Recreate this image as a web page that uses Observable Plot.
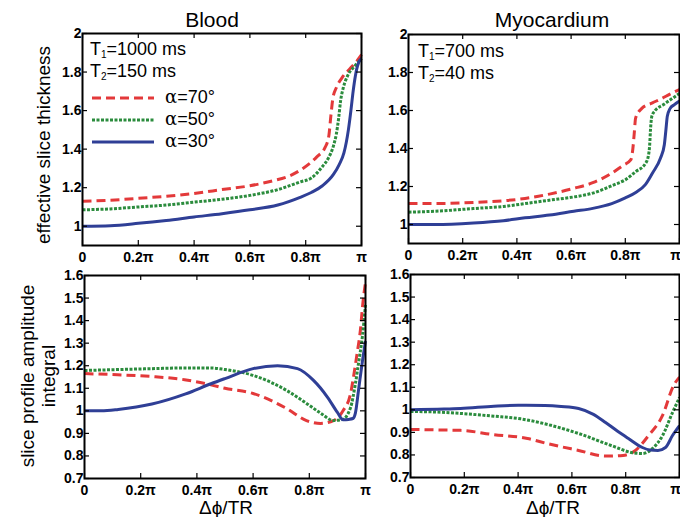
<!DOCTYPE html>
<html><head><meta charset="utf-8">
<script src="https://cdn.jsdelivr.net/npm/d3@7"></script>
<script src="https://cdn.jsdelivr.net/npm/@observablehq/plot@0.6"></script>
<style>
body{margin:0;background:#fff;}
#chart{position:relative;width:680px;height:517px;font-family:"Liberation Sans",Arial,sans-serif;color:#000;overflow:hidden;background:#fff}
#chart svg{position:absolute}
.t{position:absolute;white-space:nowrap;line-height:1}
.c{transform:translate(-50%,-50%)}
.r{transform:translate(-50%,-50%) rotate(-90deg)}
.leg{position:absolute;white-space:nowrap;line-height:1;font-size:18px;transform:translateY(-50%)}
sub{font-size:10px;vertical-align:-3px}
.ga{font-family:"DejaVu Serif","Liberation Serif",serif}
</style></head><body><div id="chart"></div>
<script>
// ---- tick values (x in units of π) ----
const xTicks = [0, 0.2, 0.4, 0.6, 0.8, 1];
const yTicksThick = [1, 1.2, 1.4, 1.6, 1.8, 2];
const yTicksAmp = [0.7, 0.8, 0.9, 1, 1.1, 1.2, 1.3, 1.4, 1.5, 1.6];
const panelTitles = ["Blood", "Myocardium"];
const flipLabels = ["α=70°", "α=50°", "α=30°"];
const tissueParams = [["1000", "150"], ["700", "40"]];

// ---- Blood: effective slice thickness ----
const bloodThick70 = [[0,1.13],[0.1,1.135],[0.2,1.145],[0.3,1.155],[0.4,1.17],[0.5,1.19],[0.6,1.21],[0.68,1.235],[0.74,1.26],[0.79,1.30],[0.84,1.36],[0.87,1.41],[0.883,1.47],[0.89,1.57],[0.897,1.66],[0.91,1.72],[0.93,1.77],[0.96,1.82],[0.985,1.86],[1,1.89]];
const bloodThick50 = [[0,1.085],[0.1,1.09],[0.2,1.1],[0.3,1.11],[0.4,1.125],[0.5,1.14],[0.6,1.16],[0.7,1.19],[0.78,1.23],[0.82,1.25],[0.86,1.31],[0.88,1.35],[0.9,1.42],[0.91,1.48],[0.918,1.56],[0.925,1.65],[0.935,1.72],[0.95,1.78],[0.975,1.83],[1,1.87]];
const bloodThick30 = [[0,1.0],[0.1,1.003],[0.2,1.015],[0.3,1.03],[0.4,1.048],[0.5,1.065],[0.6,1.085],[0.7,1.11],[0.78,1.15],[0.82,1.175],[0.86,1.21],[0.9,1.27],[0.92,1.32],[0.937,1.38],[0.953,1.50],[0.962,1.6],[0.97,1.7],[0.978,1.78],[0.99,1.85],[1,1.87]];

// ---- Myocardium: effective slice thickness ----
const myoThick70 = [[0,1.11],[0.1,1.11],[0.24,1.116],[0.35,1.125],[0.43,1.137],[0.52,1.16],[0.61,1.19],[0.68,1.22],[0.75,1.27],[0.79,1.31],[0.82,1.34],[0.828,1.40],[0.833,1.48],[0.838,1.56],[0.86,1.61],[0.9,1.64],[0.93,1.66],[0.97,1.69],[1,1.71]];
const myoThick50 = [[0,1.065],[0.1,1.07],[0.24,1.084],[0.35,1.095],[0.43,1.11],[0.52,1.128],[0.61,1.145],[0.68,1.165],[0.76,1.21],[0.8,1.235],[0.84,1.28],[0.874,1.32],[0.885,1.36],[0.89,1.42],[0.893,1.5],[0.898,1.57],[0.91,1.60],[0.94,1.63],[0.97,1.66],[1,1.69]];
const myoThick30 = [[0,1.0],[0.1,1.0],[0.24,1.008],[0.35,1.02],[0.43,1.035],[0.52,1.05],[0.61,1.07],[0.68,1.085],[0.75,1.11],[0.8,1.14],[0.84,1.17],[0.874,1.21],[0.9,1.27],[0.93,1.35],[0.944,1.42],[0.95,1.5],[0.955,1.57],[0.965,1.61],[0.98,1.63],[1,1.65]];

// ---- Blood: slice profile amplitude integral ----
const bloodAmp70 = [[0,1.165],[0.117,1.16],[0.24,1.152],[0.356,1.138],[0.45,1.115],[0.5,1.10],[0.6,1.077],[0.72,1.01],[0.79,0.957],[0.84,0.944],[0.886,0.957],[0.92,1.0],[0.947,1.077],[0.957,1.148],[0.97,1.254],[0.982,1.36],[0.99,1.47],[1,1.57]];
const bloodAmp50 = [[0,1.179],[0.12,1.183],[0.24,1.187],[0.36,1.19],[0.45,1.19],[0.5,1.183],[0.6,1.157],[0.72,1.09],[0.79,1.033],[0.84,0.99],[0.886,0.957],[0.918,0.962],[0.947,1.015],[0.964,1.12],[0.975,1.21],[0.989,1.33],[1,1.47]];
const bloodAmp30 = [[0,1.0],[0.06,1.0],[0.12,1.006],[0.24,1.03],[0.36,1.075],[0.45,1.12],[0.5,1.143],[0.6,1.187],[0.687,1.20],[0.758,1.187],[0.815,1.135],[0.865,1.06],[0.9,0.993],[0.92,0.96],[0.94,0.962],[0.955,0.966],[0.964,0.99],[0.975,1.09],[0.989,1.22],[1,1.31]];

// ---- Myocardium: slice profile amplitude integral ----
const myoAmp70 = [[0,0.913],[0.1,0.911],[0.186,0.909],[0.31,0.89],[0.435,0.873],[0.51,0.85],[0.625,0.82],[0.725,0.795],[0.79,0.798],[0.836,0.82],[0.885,0.886],[0.937,0.975],[0.978,1.108],[1,1.145]];
const myoAmp50 = [[0,0.993],[0.1,0.99],[0.186,0.984],[0.31,0.972],[0.41,0.96],[0.51,0.935],[0.625,0.895],[0.75,0.84],[0.825,0.81],[0.862,0.806],[0.9,0.829],[0.937,0.886],[0.974,0.988],[1,1.055]];
const myoAmp30 = [[0,1.0],[0.1,1.003],[0.186,1.006],[0.31,1.016],[0.4,1.02],[0.5,1.019],[0.56,1.015],[0.625,1.006],[0.68,0.98],[0.725,0.944],[0.77,0.905],[0.81,0.873],[0.862,0.833],[0.89,0.822],[0.92,0.82],[0.948,0.833],[0.974,0.886],[1,0.93]];

const styles = [
  {color:"#e3393a", dash:"9,5", width:3},
  {color:"#2b8c3d", dash:"3,1.5", width:3},
  {color:"#2f3f96", dash:null, width:3}
];

const fmtPi = d => d === 0 ? "0" : d === 1 ? "π" : d + "π";
const fmtY = d => String(+d.toFixed(1));
const tickFont = {fontSize: 14, fontWeight: "bold"};

function panel({series, yDomain, yTicks, width, height, ml, mr, mt, mb, lastDx}) {
  const iw = width - ml - mr, ih = height - mt - mb, tl = 5;
  const lines = series.map((pts, i) => Plot.line(pts, {
    x: d => d[0], y: d => d[1], stroke: styles[i].color, strokeWidth: styles[i].width,
    strokeDasharray: styles[i].dash, strokeLinecap: "butt", curve: "monotone-x"
  }));
  return Plot.plot({
    width, height, marginLeft: ml, marginRight: mr, marginTop: mt, marginBottom: mb,
    style: {fontFamily: "'Liberation Sans', Arial, sans-serif", fontSize: "14px", fontWeight: "bold", background: "transparent", overflow: "visible", color: "#000"},
    x: {domain: [0, 1]},
    y: {domain: yDomain},
    marks: [
      ...lines,
      Plot.tickX(xTicks, {x: d => d, insetTop: ih - tl, stroke: "#000", strokeWidth: 1.2}),
      Plot.tickX(xTicks, {x: d => d, insetBottom: ih - tl, stroke: "#000", strokeWidth: 1.2}),
      Plot.tickY(yTicks, {y: d => d, insetRight: iw - tl, stroke: "#000", strokeWidth: 1.2}),
      Plot.tickY(yTicks, {y: d => d, insetLeft: iw - tl, stroke: "#000", strokeWidth: 1.2}),
      Plot.axisX({ticks: xTicks.slice(0, -1), tickFormat: fmtPi, tickSize: 0, tickPadding: 7, label: null, ...tickFont}),
      Plot.axisX({ticks: xTicks.slice(-1), tickFormat: fmtPi, tickSize: 0, tickPadding: 7, label: null, dx: lastDx || 0, ...tickFont}),
      Plot.axisY({ticks: yTicks, tickFormat: fmtY, tickSize: 0, tickPadding: 1, label: null, ...tickFont}),
      Plot.frame({stroke: "#000", strokeWidth: 2})
    ]
  });
}

const chart = document.getElementById("chart");
function place(svg, left, top) { svg.style.left = left + "px"; svg.style.top = top + "px"; chart.appendChild(svg); }

place(panel({series:[bloodThick70, bloodThick50, bloodThick30], yDomain:[0.9, 2], yTicks: yTicksThick,
  width: 372, height: 270, ml: 82, mr: 11, mt: 33, mb: 25}), 0, 0);
place(panel({series:[myoThick70, myoThick50, myoThick30], yDomain:[0.9, 2], yTicks: yTicksThick,
  width: 340, height: 270, ml: 68, mr: 1, mt: 34, mb: 27, lastDx: -4}), 340, 0);
place(panel({series:[bloodAmp70, bloodAmp50, bloodAmp30], yDomain:[0.7, 1.6], yTicks: yTicksAmp,
  width: 372, height: 255, ml: 84, mr: 7, mt: 13, mb: 39}), 0, 262);
place(panel({series:[myoAmp70, myoAmp50, myoAmp30], yDomain:[0.7, 1.6], yTicks: yTicksAmp,
  width: 340, height: 255, ml: 70, mr: 1, mt: 12, mb: 40, lastDx: -4}), 340, 262);

function addText(html, cls, x, y, size, extra) {
  const d = document.createElement("div");
  d.className = "t " + cls;
  d.style.left = x + "px"; d.style.top = y + "px"; d.style.fontSize = size + "px";
  if (extra) Object.assign(d.style, extra);
  d.innerHTML = html;
  chart.appendChild(d);
}
addText(panelTitles[0], "c", 212, 19, 21);
addText(panelTitles[1], "c", 552, 19, 21);
addText("effective slice thickness", "r", 43, 145, 19);
addText("slice profile amplitude", "r", 27, 376, 19);
addText("integral", "r", 48, 376, 19);
addText("Δϕ/TR", "c", 226, 507, 19);
addText("Δϕ/TR", "c", 553, 507, 19);

function addLeg(html, x, y) {
  const d = document.createElement("div");
  d.className = "leg"; d.style.left = x + "px"; d.style.top = y + "px";
  d.innerHTML = html; chart.appendChild(d);
}
addLeg(`T<sub>1</sub>=${tissueParams[0][0]} ms`, 90, 50);
addLeg(`T<sub>2</sub>=${tissueParams[0][1]} ms`, 90, 72);
addLeg(`T<sub>1</sub>=${tissueParams[1][0]} ms`, 418, 52);
addLeg(`T<sub>2</sub>=${tissueParams[1][1]} ms`, 418, 74);
const legY = [97, 119, 141];
flipLabels.forEach((lab, i) => {
  const s = styles[i];
  addLeg(`<svg width="64" height="8" style="position:static;display:inline-block;vertical-align:middle"><line x1="1" x2="63" y1="4" y2="4" stroke="${s.color}" stroke-width="${s.width}" ${s.dash ? `stroke-dasharray="${s.dash}"` : ""}/></svg>`, 91, legY[i]);
  addLeg(`<span class="ga">α</span>${lab.slice(1)}`, 165, legY[i]);
});
</script></body></html>
